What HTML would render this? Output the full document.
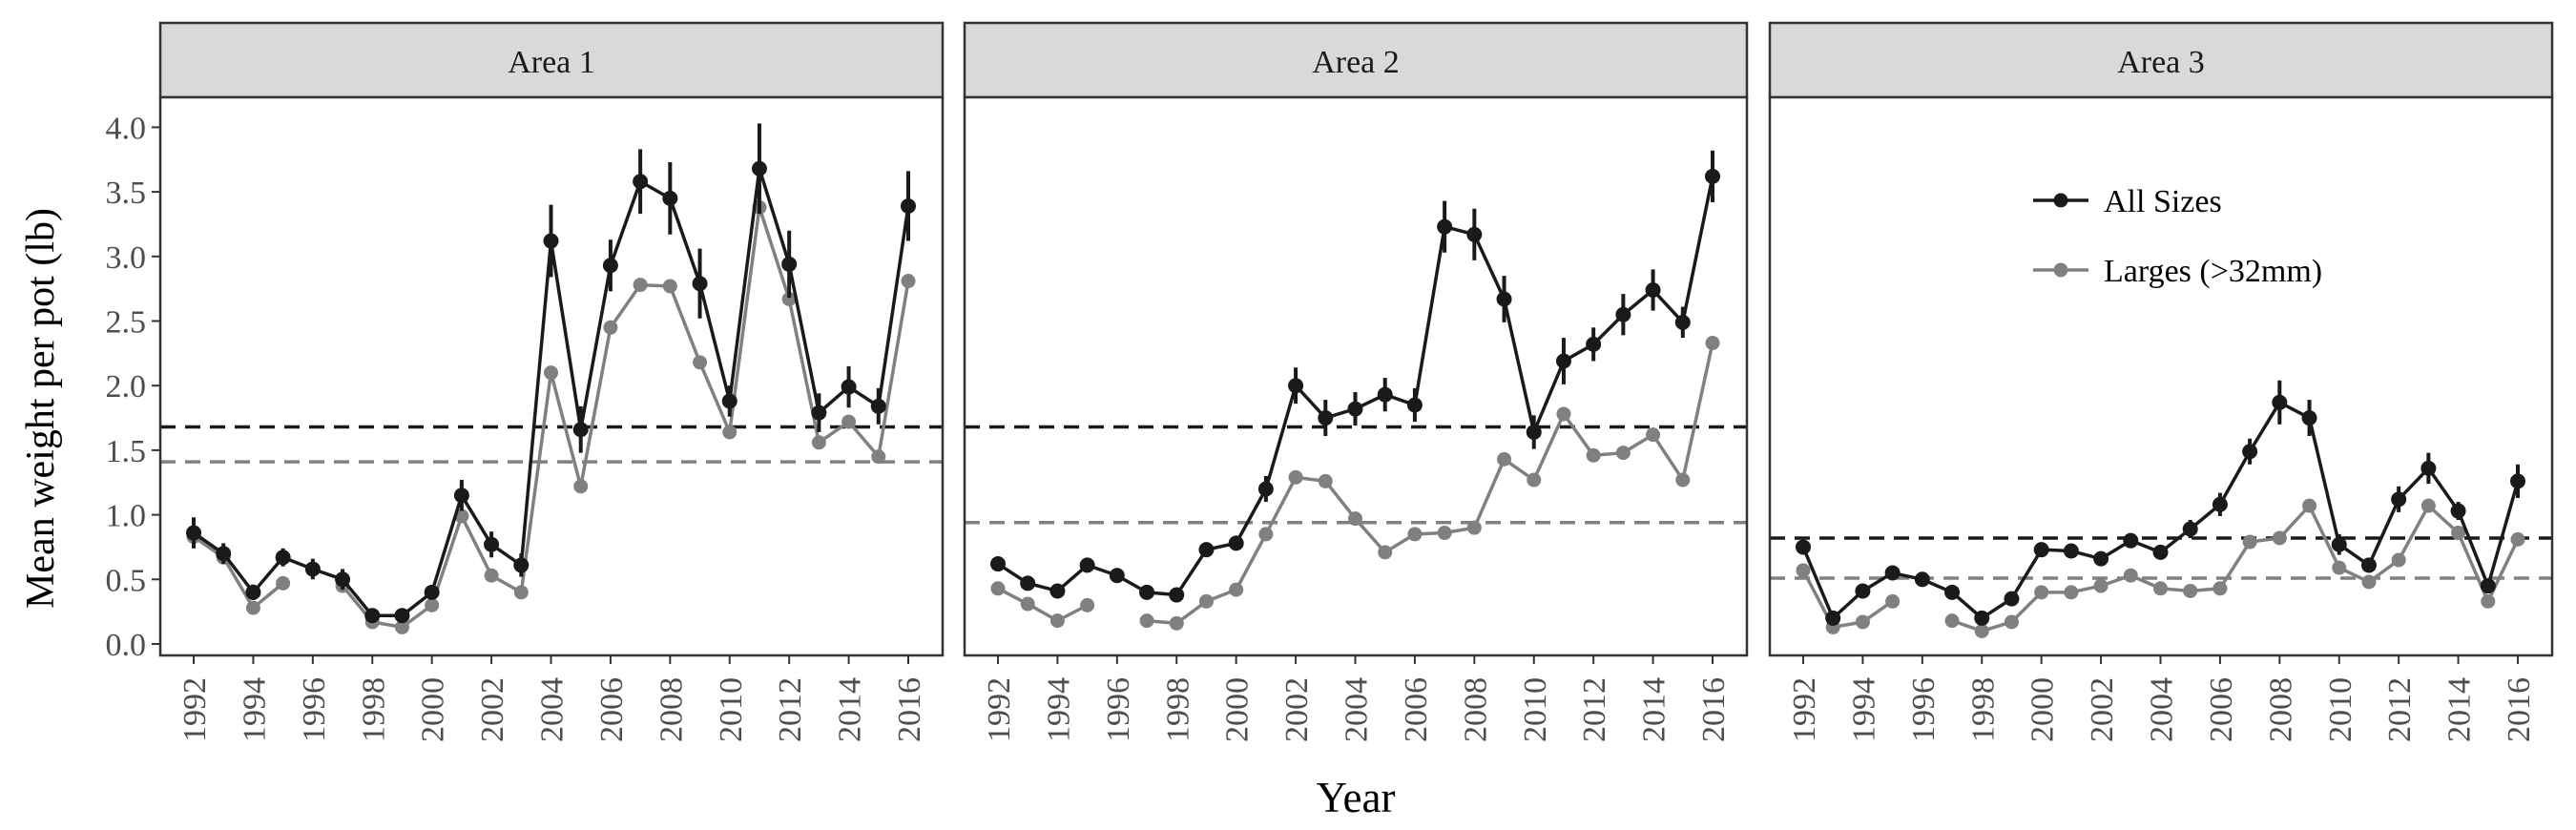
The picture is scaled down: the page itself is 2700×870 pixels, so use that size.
<!DOCTYPE html>
<html><head><meta charset="utf-8"><style>
html,body{margin:0;padding:0;background:#fff;}
svg{display:block;font-family:"Liberation Serif",serif;}
</style></head><body>
<svg id="chart" width="2700" height="870" viewBox="0 0 2700 870" xmlns="http://www.w3.org/2000/svg"></svg>
<script>
const years = [1992,1993,1994,1995,1996,1997,1998,1999,2000,2001,2002,2003,2004,2005,2006,2007,2008,2009,2010,2011,2012,2013,2014,2015,2016];
const areaNames = ["Area 1","Area 2","Area 3"];
const allA1 = [0.86,0.70,0.40,0.67,0.58,0.50,0.22,0.22,0.40,1.15,0.77,0.61,3.12,1.66,2.93,3.58,3.45,2.79,1.88,3.68,2.94,1.79,1.99,1.84,3.39];
const seA1  = [0.12,0.08,0.06,0.07,0.08,0.08,0.03,0.05,0.05,0.12,0.10,0.09,0.28,0.18,0.20,0.25,0.28,0.27,0.12,0.35,0.26,0.15,0.16,0.14,0.27];
const lrgA1 = [0.83,0.67,0.28,0.47,null,0.45,0.17,0.13,0.30,0.99,0.53,0.40,2.10,1.22,2.45,2.78,2.77,2.18,1.64,3.38,2.67,1.56,1.72,1.45,2.81];
const allA2 = [0.62,0.47,0.41,0.61,0.53,0.40,0.38,0.73,0.78,1.20,2.00,1.75,1.82,1.93,1.85,3.23,3.17,2.67,1.64,2.19,2.32,2.55,2.74,2.49,3.62];
const seA2  = [0.03,0.03,0.03,0.03,0.03,0.03,0.03,0.04,0.05,0.10,0.14,0.14,0.13,0.13,0.13,0.20,0.20,0.18,0.13,0.18,0.13,0.16,0.16,0.12,0.20];
const lrgA2 = [0.43,0.31,0.18,0.30,null,0.18,0.16,0.33,0.42,0.85,1.29,1.26,0.97,0.71,0.85,0.86,0.90,1.43,1.27,1.78,1.46,1.48,1.62,1.27,2.33];
const allA3 = [0.75,0.20,0.41,0.55,0.50,0.40,0.20,0.35,0.73,0.72,0.66,0.80,0.71,0.89,1.08,1.49,1.87,1.75,0.77,0.61,1.12,1.36,1.03,0.45,1.26];
const seA3  = [0.04,0.04,0.04,0.03,0.03,0.03,0.03,0.04,0.04,0.04,0.04,0.04,0.04,0.07,0.09,0.10,0.17,0.14,0.08,0.05,0.10,0.12,0.07,0.05,0.13];
const lrgA3 = [0.57,0.13,0.17,0.33,null,0.18,0.10,0.17,0.40,0.40,0.45,0.53,0.43,0.41,0.43,0.79,0.82,1.07,0.59,0.48,0.65,1.07,0.86,0.33,0.81];
const meanAll = [1.68,1.68,0.82];
const meanLrg = [1.41,0.94,0.51];
const yTicks = [0.0,0.5,1.0,1.5,2.0,2.5,3.0,3.5,4.0];
const yTickLabels = ["0.0","0.5","1.0","1.5","2.0","2.5","3.0","3.5","4.0"];
const xTicks = [1992,1994,1996,1998,2000,2002,2004,2006,2008,2010,2012,2014,2016];

const allSeries=[allA1,allA2,allA3], seSeries=[seA1,seA2,seA3], lrgSeries=[lrgA1,lrgA2,lrgA3];
const NS="http://www.w3.org/2000/svg";
const svg=document.getElementById('chart');
const panelLeft=[168,1011,1855], panelW=820, stripTop=24, plotTop=102, plotBot=687;
function yS(v){return 675-135.4*v;}
function xS(p,yr){return panelLeft[p]+35+(yr-1992)*(749/24);}
function mk(tag,attrs,parent){const e=document.createElementNS(NS,tag);for(const k in attrs)e.setAttribute(k,attrs[k]);(parent||svg).appendChild(e);return e;}
const BLK="#1a1a1a", GRY="#808080";

for(let p=0;p<3;p++){
  const g=mk('g',{});
  
  
  const L=panelLeft[p];
  const strip=mk('rect',{x:L,y:stripTop,width:panelW,height:plotTop-stripTop,fill:'#d9d9d9',stroke:'#333',"stroke-width":2.5},g);
  
  
  const st=mk('text',{x:L+panelW/2,y:76,"text-anchor":"middle","font-size":34,fill:'#1a1a1a'},g);
  st.textContent=areaNames[p];
  
  
  mk('rect',{x:L,y:plotTop,width:panelW,height:plotBot-plotTop,fill:'#fff'},g);
  for(const yr of xTicks){
    const x=xS(p,yr);
    mk('line',{x1:x,y1:plotBot,x2:x,y2:plotBot+9,stroke:'#333',"stroke-width":2},g);
    const t=mk('text',{x:0,y:0,transform:`translate(${x+12},710) rotate(-90)`,"text-anchor":"end","font-size":34,fill:'#4d4d4d'},g);
    t.textContent=yr;
    
    
  }
  const ml=mk('line',{x1:L,x2:L+panelW,y1:yS(meanAll[p]),y2:yS(meanAll[p]),stroke:BLK,"stroke-width":3.5,"stroke-dasharray":"16,10"},g);
  
  
  const ml2=mk('line',{x1:L,x2:L+panelW,y1:yS(meanLrg[p]),y2:yS(meanLrg[p]),stroke:GRY,"stroke-width":3.5,"stroke-dasharray":"16,10"},g);
  
  
  const lrg=lrgSeries[p];
  let d="",pen=false;
  lrg.forEach((v,i)=>{if(v===null){pen=false;return;}d+=(pen?"L":"M")+xS(p,years[i])+","+yS(v)+" ";pen=true;});
  const lp=mk('path',{d:d,fill:'none',stroke:GRY,"stroke-width":3.5,"stroke-linejoin":"round"},g);
  
  
  lrg.forEach((v,i)=>{if(v===null)return;
    const c=mk('circle',{cx:xS(p,years[i]),cy:yS(v),r:7.5,fill:GRY},g);
    
    
  });
  const all=allSeries[p], se=seSeries[p];
  let d2="";
  all.forEach((v,i)=>{d2+=(i?"L":"M")+xS(p,years[i])+","+yS(v)+" ";});
  const ap=mk('path',{d:d2,fill:'none',stroke:BLK,"stroke-width":3.5,"stroke-linejoin":"round"},g);
  
  
  all.forEach((v,i)=>{
    const x=xS(p,years[i]);
    const eb=mk('line',{x1:x,x2:x,y1:yS(v-se[i]),y2:yS(v+se[i]),stroke:BLK,"stroke-width":4},g);
    
    
    const c=mk('circle',{cx:x,cy:yS(v),r:8,fill:BLK},g);
    
    
  });
  const fr=mk('rect',{x:L,y:plotTop,width:panelW,height:plotBot-plotTop,fill:'none',stroke:'#333',"stroke-width":2.5},g);
  
  
}
yTicks.forEach((v,i)=>{
  mk('line',{x1:159,x2:168,y1:yS(v),y2:yS(v),stroke:'#333',"stroke-width":2});
  const t=mk('text',{x:153,y:yS(v)+12,"text-anchor":"end","font-size":34,fill:'#4d4d4d'});
  t.textContent=yTickLabels[i];
  
  
});
const yt=mk('text',{x:0,y:0,transform:"translate(56,428) rotate(-90)","text-anchor":"middle","font-size":42,fill:'#000'});
yt.textContent="Mean weight per pot (lb)";


const xt=mk('text',{x:1421,y:851,"text-anchor":"middle","font-size":45,fill:'#000'});
xt.textContent="Year";


const lg=mk('g',{});


[["All Sizes",BLK,210],["Larges (>32mm)",GRY,283]].forEach(([lab,col,y])=>{
  const e=mk('g',{},lg);
  
  
  mk('line',{x1:2131,x2:2189,y1:y,y2:y,stroke:col,"stroke-width":3.5},e);
  mk('circle',{cx:2160,cy:y,r:7.5,fill:col},e);
  const t=mk('text',{x:2205,y:y+12,"font-size":34,fill:'#000'},e);
  t.textContent=lab;
});
</script>
</body></html>
